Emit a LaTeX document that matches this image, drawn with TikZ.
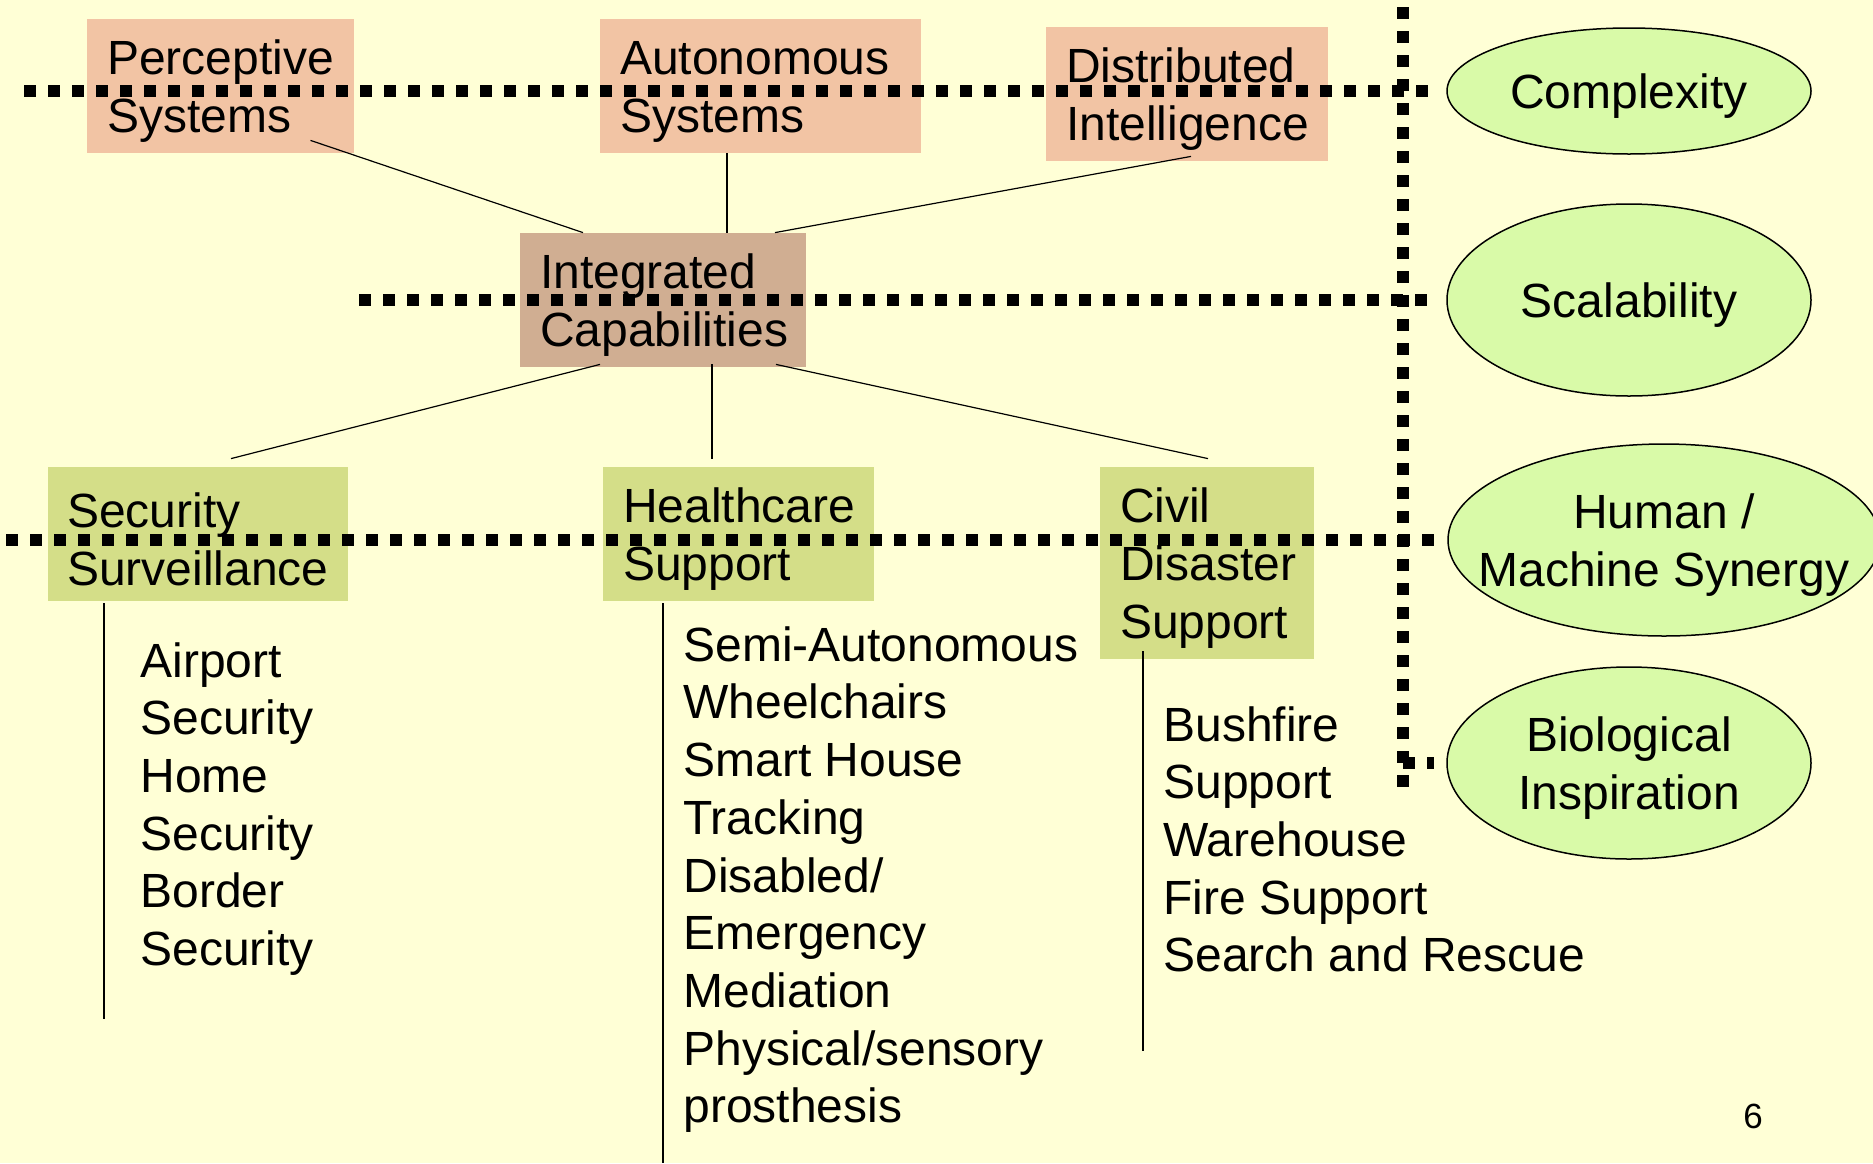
\documentclass[tikz,border=0pt]{standalone}
\usepackage{fontspec}
\setmainfont{Liberation Sans}
\usepackage{tikz}
\usetikzlibrary{shapes.geometric}
\definecolor{slidebg}{RGB}{255,255,214}
\definecolor{salmon}{RGB}{242,196,164}
\definecolor{tan}{RGB}{208,174,146}
\definecolor{leaf}{RGB}{212,222,136}
\definecolor{lime}{RGB}{217,250,168}
\begin{document}
\begin{tikzpicture}[x=0.5pt,y=-0.5pt]
\tikzstyle{every node}=[font=\fontsize{24}{28.85}\selectfont];
\tikzstyle{box}=[rectangle,inner xsep=10pt,inner ysep=0pt,align=left,minimum height=67pt,
  execute at begin node={\rule{0pt}{22.5pt}}];
\tikzstyle{topic}=[ellipse,draw,line width=0.75pt,fill=lime,inner sep=0pt];
\tikzstyle{topictext}=[inner sep=0pt,align=center,yshift=-2.5pt];
\tikzstyle{items}=[anchor=north west,inner sep=0pt,align=left];
\tikzstyle{dots}=[line width=6pt,dash pattern=on 6pt off 6pt];
\tikzstyle{link}=[line width=0.6pt];
\useasboundingbox (0,0) rectangle (1873,1163);
\fill[slidebg] (0,0) rectangle (1873,1163);

% research areas
\node[box,fill=salmon,text width=113.5pt] (perc) at (220.5,86) {Perceptive\\Systems};
\node[box,fill=salmon,text width=140.5pt] (auto) at (760.5,86) {Autonomous\\Systems};
\node[box,fill=salmon,text width=121pt] (dist) at (1187,94) {Distributed\\Intelligence};
\node[box,fill=tan,text width=123pt] (integ) at (663,300) {Integrated\\Capabilities};

% applications
\node[box,fill=leaf,text width=131pt,inner xsep=9.5pt] (secu) at (198,534) {Security\\Surveillance};
\node[box,fill=leaf,text width=115.5pt] (health) at (738.5,534) {Healthcare\\Support};
\node[box,fill=leaf,text width=87pt,minimum height=96pt] (civil) at (1207,563) {Civil\\Disaster\\Support};

\node[items] (secuitems) at (140,642) {Airport\\Security\\Home\\Security\\Border\\Security};
\node[items] (healthitems) at (683,626) {Semi-Autonomous\\Wheelchairs\\Smart House\\Tracking\\Disabled/\\Emergency\\Mediation\\Physical/sensory\\prosthesis};
\node[items] (civilitems) at (1163,706) {Bushfire\\Support\\Warehouse\\Fire Support\\Search and Rescue};

% challenges
\node[topic,minimum width=182pt,minimum height=63pt] (cplx) at (1629,91) {};
\node[topic,minimum width=182pt,minimum height=96pt] (scal) at (1629,300) {};
\node[topic,minimum width=216pt,minimum height=96pt] (hms) at (1664,540) {};
\node[topic,minimum width=182pt,minimum height=96pt] (bio) at (1629,763) {};
\node[topictext] (cplxtext) at (cplx) {Complexity};
\node[topictext] (scaltext) at (scal) {Scalability};
\node[topictext] (hmstext) at (hms) {Human /\\Machine Synergy};
\node[topictext] (biotext) at (bio) {Biological\\Inspiration};

\node[font=\fontsize{17.5}{20}\selectfont] (pagenum) at (1753,1116) {6};

% tree links
\draw[link] ([xshift=45pt,yshift=6.5pt]perc.south) -- ([xshift=-40pt]integ.north);
\draw[link] ([xshift=-16.75pt]auto.south) -- ([xshift=32pt]integ.north);
\draw[link] ([xshift=2pt,yshift=2.5pt]dist.south) -- ([xshift=56pt]integ.north);
\draw[link] ([xshift=-31.5pt,yshift=1.5pt]integ.south) -- ([xshift=16.5pt,yshift=4pt]secu.north);
\draw[link] ([xshift=24.5pt,yshift=1.5pt]integ.south) -- ([xshift=-13.25pt,yshift=4pt]health.north);
\draw[link] ([xshift=56.5pt,yshift=1.5pt]integ.south) -- ([xshift=0.5pt,yshift=4pt]civil.north);
\draw[link] ([xshift=-47pt,yshift=-1pt]secu.south) -- ++(0,416);
\draw[link] ([xshift=-37.75pt,yshift=-1pt]health.south) -- ++(0,560);
\draw[link] ([xshift=-32pt,yshift=4pt]civil.south) -- ++(0,400);

% dotted levels
\coordinate (l1) at (24,91);
\coordinate (l2) at (359,300);
\coordinate (l3) at (6,540);
\coordinate (vtop) at (1403,7);
\coordinate (vbot) at (1403,787);
\coordinate (vstub) at (1403,763);
\draw[dots] (l1) -- ([xshift=-6pt]cplx.west);
\draw[dots] (l2) -- ([xshift=-6pt]scal.west);
\draw[dots] (l3) -- ([xshift=-6pt]hms.west);
\draw[dots] (vtop) -- (vbot);
\draw[dots] (vstub) -- ([xshift=-6pt]bio.west);
\end{tikzpicture}
\end{document}
